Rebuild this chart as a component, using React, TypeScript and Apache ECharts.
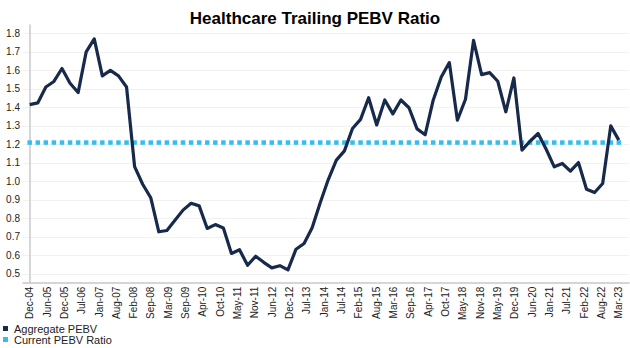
import React, { useEffect, useRef } from "react";
import * as echarts from "echarts";

// Quarterly observation dates (YYYY-MM)
const quarterDates: string[] = [
  "2004-12",
  "2005-03", "2005-06", "2005-09", "2005-12",
  "2006-03", "2006-06", "2006-09", "2006-12",
  "2007-03", "2007-06", "2007-09", "2007-12",
  "2008-03", "2008-06", "2008-09", "2008-12",
  "2009-03", "2009-06", "2009-09", "2009-12",
  "2010-03", "2010-06", "2010-09", "2010-12",
  "2011-03", "2011-06", "2011-09", "2011-12",
  "2012-03", "2012-06", "2012-09", "2012-12",
  "2013-03", "2013-06", "2013-09", "2013-12",
  "2014-03", "2014-06", "2014-09", "2014-12",
  "2015-03", "2015-06", "2015-09", "2015-12",
  "2016-03", "2016-06", "2016-09", "2016-12",
  "2017-03", "2017-06", "2017-09", "2017-12",
  "2018-03", "2018-06", "2018-09", "2018-12",
  "2019-03", "2019-06", "2019-09", "2019-12",
  "2020-03", "2020-06", "2020-09", "2020-12",
  "2021-03", "2021-06", "2021-09", "2021-12",
  "2022-03", "2022-06", "2022-09", "2022-12",
  "2023-03",
];

// Aggregate PEBV (one value per quarter)
const aggregatePEBV: number[] = [
  1.415, 1.424, 1.51, 1.54, 1.61, 1.53, 1.48, 1.70, 1.77, 1.57,
  1.60, 1.57, 1.51, 1.08, 0.985, 0.912, 0.728, 0.735, 0.79, 0.845,
  0.882, 0.868, 0.746, 0.767, 0.748, 0.611, 0.631, 0.547, 0.596, 0.563,
  0.533, 0.545, 0.522, 0.634, 0.665, 0.75, 0.885, 1.01, 1.115, 1.165,
  1.286, 1.335, 1.452, 1.305, 1.44, 1.365, 1.44, 1.398, 1.284, 1.252,
  1.439, 1.564, 1.642, 1.331, 1.444, 1.762, 1.577, 1.588, 1.541, 1.376,
  1.559, 1.169, 1.217, 1.259, 1.174, 1.079, 1.097, 1.056, 1.102, 0.958,
  0.94, 0.989, 1.30, 1.223,
];

// Current PEBV ratio (reference level)
const currentPEBV = 1.21;

// X-axis tick labels
const xTickLabels: string[] = [
  "Dec-04", "Jun-05", "Dec-05", "Jul-06", "Jan-07", "Aug-07", "Feb-08",
  "Sep-08", "Mar-09", "Sep-09", "Apr-10", "Oct-10", "May-11", "Nov-11",
  "Jun-12", "Dec-12", "Jul-13", "Jan-14", "Jul-14", "Feb-15", "Aug-15",
  "Mar-16", "Sep-16", "Apr-17", "Oct-17", "May-18", "Nov-18", "May-19",
  "Dec-19", "Jun-20", "Jan-21", "Jul-21", "Feb-22", "Aug-22", "Mar-23",
];

// Y-axis tick labels
const yTickValues: number[] = [0.5, 0.6, 0.7, 0.8, 0.9, 1.0, 1.1, 1.2, 1.3, 1.4, 1.5, 1.6, 1.7, 1.8];

const FONT = "'Liberation Sans', Arial, Helvetica, sans-serif";

function monthsSinceStart(s: string): number {
  const [y, m] = s.split("-").map(Number);
  const [y0, m0] = quarterDates[0].split("-").map(Number);
  return (y - y0) * 12 + (m - m0);
}

export default function App() {
  const ref = useRef<HTMLDivElement>(null);

  useEffect(() => {
    if (!ref.current) return;
    const chart = echarts.init(ref.current, null, { renderer: "svg" });

    const lastMonth = monthsSinceStart(quarterDates[quarterDates.length - 1]);
    const labelStep = lastMonth / (xTickLabels.length - 1);
    const labelPositions = xTickLabels.map((_, k) => k * labelStep);

    const aggData = quarterDates.map((d, i) => [monthsSinceStart(d), aggregatePEBV[i]]);
    const curData = quarterDates.map((d) => [monthsSinceStart(d), currentPEBV]);

    const legendCommon = {
      orient: "vertical",
      left: 3,
      padding: 0,
      itemWidth: 5,
      itemHeight: 5,
      itemGap: 0,
      icon: "rect",
      textStyle: { fontFamily: FONT, fontSize: 11, color: "#222", padding: [0, 0, 0, 1] },
    };

    chart.setOption({
      animation: false,
      backgroundColor: "#ffffff",
      title: {
        text: "Healthcare Trailing PEBV Ratio",
        left: "center",
        top: 5,
        textStyle: { fontFamily: FONT, fontSize: 17, fontWeight: "bold", color: "#000" },
      },
      grid: { left: 23, right: 1, top: 25, bottom: 65.3, containLabel: false },
      legend: [
        { ...legendCommon, top: 323, data: ["Aggregate PEBV"] },
        { ...legendCommon, top: 334, data: ["Current PEBV Ratio"] },
      ],
      xAxis: {
        type: "value",
        min: -2.49,
        max: 222.79,
        axisLine: { show: true, lineStyle: { color: "#c8c8c8", width: 1.5 } },
        axisTick: { show: false, customValues: labelPositions },
        splitLine: { show: false },
        axisLabel: {
          customValues: labelPositions,
          rotate: 90,
          margin: 4,
          fontFamily: FONT,
          fontSize: 10,
          color: "#222",
          formatter: (v: number) => xTickLabels[Math.round(v / labelStep)] ?? "",
        },
      },
      yAxis: {
        type: "value",
        min: 0.453,
        max: 1.845,
        axisLine: { show: true, lineStyle: { color: "#c8c8c8", width: 1.5 } },
        axisTick: { show: false, customValues: yTickValues },
        splitLine: { show: true, lineStyle: { color: "#f1f1f1", width: 1 } },
        axisLabel: {
          customValues: yTickValues,
          margin: 3,
          fontFamily: FONT,
          fontSize: 10,
          color: "#222",
          formatter: (v: number) => v.toFixed(1),
        },
      },
      series: [
        {
          name: "Aggregate PEBV",
          type: "line",
          data: aggData,
          showSymbol: false,
          symbol: "none",
          color: "#172A4C",
          lineStyle: { color: "#172A4C", width: 3.2, join: "round" },
          z: 3,
        },
        {
          name: "Current PEBV Ratio",
          type: "line",
          data: curData,
          symbol: "rect",
          symbolSize: 4.5,
          showSymbol: true,
          color: "#35BDF0",
          itemStyle: { color: "#35BDF0" },
          lineStyle: { width: 0, opacity: 0 },
          z: 2,
        },
      ],
    });

    return () => chart.dispose();
  }, []);

  return (
    <div
      ref={ref}
      style={{ position: "fixed", left: 0, top: 0, width: 630, height: 348, background: "#fff" }}
    />
  );
}
